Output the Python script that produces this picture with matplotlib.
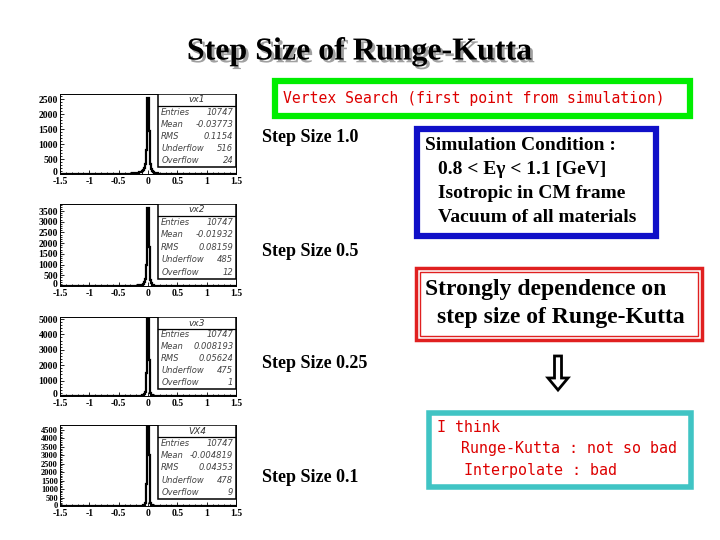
import numpy as np
import matplotlib.pyplot as plt
import matplotlib.patheffects as pe
from matplotlib.patches import Rectangle, FancyArrow
from matplotlib.ticker import MultipleLocator
from matplotlib.transforms import ScaledTranslation

# bin centres of the vertex histograms (width 0.02), counts are zero elsewhere
centers = [-0.40, -0.38, -0.36, -0.34, -0.32, -0.30, -0.28, -0.26, -0.24, -0.22,
           -0.20, -0.18, -0.16, -0.14, -0.12, -0.10, -0.08, -0.06, -0.04, -0.02,
           0.00, 0.02, 0.04, 0.06, 0.08, 0.10, 0.12, 0.14, 0.16, 0.18, 0.20]

vx1 = [4, 5, 6, 8, 10, 12, 15, 18, 22, 27,
       33, 40, 50, 62, 80, 105, 140, 200, 330, 800,
       2550, 1420, 330, 160, 100, 65, 42, 28, 18, 10, 5]
vx2 = [2, 2, 3, 3, 4, 5, 6, 7, 9, 11,
       14, 18, 24, 32, 45, 70, 110, 180, 350, 1000,
       3650, 1800, 300, 120, 60, 35, 20, 12, 7, 4, 2]
vx3 = [1, 1, 2, 2, 2, 3, 3, 4, 5, 6,
       8, 10, 13, 17, 24, 35, 60, 110, 250, 1500,
       5000, 2350, 200, 80, 40, 22, 12, 7, 4, 2, 1]
vx4 = [1, 1, 1, 2, 2, 2, 3, 3, 4, 5,
       6, 8, 10, 13, 18, 26, 40, 70, 180, 1300,
       4750, 3000, 150, 60, 30, 16, 9, 5, 3, 2, 1]

hist_names = ['vx1', 'vx2', 'vx3', 'VX4']
hist_counts = [vx1, vx2, vx3, vx4]
stat_entries = ['10747', '10747', '10747', '10747']
stat_mean = ['-0.03773', '-0.01932', '0.008193', '-0.004819']
stat_rms = ['0.1154', '0.08159', '0.05624', '0.04353']
stat_under = ['516', '485', '475', '478']
stat_over = ['24', '12', '1', '9']
ytops = [2667, 3827, 5130, 4796]
ysteps = [500, 500, 1000, 500]
step_labels = ['Step Size 1.0', 'Step Size 0.5', 'Step Size 0.25', 'Step Size 0.1']

# pixel layout (top, bottom) of each histogram frame
frames = [(94, 174), (204, 286), (317, 396), (425, 506)]
label_y = [137, 251, 364, 477]

W, H = 720, 540
fig = plt.figure(figsize=(7.2, 5.4), dpi=100)
fig.patch.set_facecolor('white')

serif = 'Liberation Serif'
mono = 'DejaVu Sans Mono'

edges = np.concatenate([[-1.5], np.array(centers) - 0.01, [centers[-1] + 0.01, 1.5]])

for i in range(4):
    top, bot = frames[i]
    ax = fig.add_axes([60 / W, (H - bot) / H, 176 / W, (bot - top) / H])
    counts = np.concatenate([[0], hist_counts[i], [0]])
    ax.stairs(counts, edges, color='black', lw=1.6, baseline=None)
    ax.set_xlim(-1.5, 1.5)
    ax.set_ylim(0, ytops[i])
    ax.xaxis.set_minor_locator(MultipleLocator(0.1))
    ax.yaxis.set_minor_locator(MultipleLocator(ysteps[i] / 5))
    ax.tick_params(direction='in', which='both', top=False, right=False,
                   length=3, width=0.6, pad=1.5)
    ax.tick_params(axis='x', pad=2.5)
    ax.tick_params(which='minor', length=1.5)
    ax.set_xticks([-1.5, -1, -0.5, 0, 0.5, 1, 1.5])
    ax.set_xticklabels(['-1.5', '-1', '-0.5', '0', '0.5', '1', '1.5'])
    yt = np.arange(0, ytops[i], ysteps[i])
    ax.set_yticks(yt)
    ax.set_yticklabels([str(int(v)) for v in yt])
    for lab in ax.get_xticklabels():
        lab.set_fontfamily(serif)
        lab.set_fontweight('bold')
        lab.set_fontsize(7)
    for lab in ax.get_yticklabels():
        lab.set_fontfamily(serif)
        lab.set_fontweight('bold')
        lab.set_fontsize(7 if i != 3 else 6)
    zero = ax.get_yticklabels()[0]
    shift = 2 if i != 3 else 1
    zero.set_transform(zero.get_transform() + ScaledTranslation(0, shift / 72, fig.dpi_scale_trans))
    for s in ax.spines.values():
        s.set_linewidth(0.7)

    # stats box
    bx0, by0 = 0.555, 0.09
    ax.add_patch(Rectangle((bx0, by0), 1 - bx0, 1 - by0, transform=ax.transAxes,
                           facecolor='white', edgecolor='black', lw=1.1, zorder=5))
    hdr = 1 - 12 / (bot - top)
    ax.plot([bx0, 1], [hdr, hdr], transform=ax.transAxes, color='black', lw=0.9, zorder=6)
    ax.text((bx0 + 1) / 2, (1 + hdr) / 2, hist_names[i], transform=ax.transAxes,
            ha='center', va='center', fontsize=6.5, style='italic', color='#333333', zorder=7)
    rows = [('Entries', stat_entries[i]), ('Mean', stat_mean[i]), ('RMS', stat_rms[i]),
            ('Underflow', stat_under[i]), ('Overflow', stat_over[i])]
    rh = (hdr - by0) / 5
    for j, (k, v) in enumerate(rows):
        yy = hdr - rh * (j + 0.5)
        ax.text(bx0 + 0.02, yy, k, transform=ax.transAxes, ha='left', va='center',
                fontsize=6, style='italic', color='#444444', zorder=7)
        ax.text(0.985, yy, v, transform=ax.transAxes, ha='right', va='center',
                fontsize=6, style='italic', color='#444444', zorder=7)

# overlay in pixel coordinates for text and boxes
bg = fig.add_axes([0, 0, 1, 1], zorder=10)
bg.set_xlim(0, W)
bg.set_ylim(H, 0)
bg.axis('off')
bg.patch.set_alpha(0)

# title with shadow
bg.text(360, 52, 'Step Size of Runge-Kutta', ha='center', va='center', fontsize=23,
        fontweight='bold', family=serif, color='black',
        path_effects=[pe.withSimplePatchShadow(offset=(2, -2), shadow_rgbFace='#a0a0a0', alpha=1)])

# green box
bg.add_patch(Rectangle((275, 81), 415, 35, facecolor='white', edgecolor='#00ee00', lw=4.5))
bg.text(283, 99, 'Vertex Search (first point from simulation)', ha='left', va='center',
        fontsize=10.6, family=mono, color='#dd0000')

for lab, yy in zip(step_labels, label_y):
    bg.text(262, yy, lab, ha='left', va='center', fontsize=13, fontweight='bold', family=serif)

# blue box
bg.add_patch(Rectangle((417, 129), 239, 107, facecolor='white', edgecolor='#1010c8', lw=4.5))
cond_lines = ['Simulation Condition :', '0.8 < E\u03b3 < 1.1 [GeV]',
              'Isotropic in CM frame', 'Vacuum of all materials']
cond_x = [425, 438, 438, 438]
cond_y = [145, 169, 193, 217]
for t, xx, yy in zip(cond_lines, cond_x, cond_y):
    bg.text(xx, yy, t, ha='left', va='center', fontsize=14, fontweight='bold', family=serif)

# red double box
bg.add_patch(Rectangle((416, 268), 286, 72, facecolor='white', edgecolor='#e02020', lw=2.5))
bg.add_patch(Rectangle((420, 272), 278, 64, facecolor='none', edgecolor='#e02020', lw=1.0))
bg.text(425, 289, 'Strongly dependence on', ha='left', va='center', fontsize=17,
        fontweight='bold', family=serif, color='black')
bg.text(437, 317, 'step size of Runge-Kutta', ha='left', va='center', fontsize=17,
        fontweight='bold', family=serif, color='black')

# hollow down arrow
bg.add_patch(FancyArrow(558, 356, 0, 34, width=7, head_width=20, head_length=12,
                        length_includes_head=True, facecolor='white', edgecolor='black', lw=2))

# cyan box
bg.add_patch(Rectangle((429, 413), 262, 74, facecolor='white', edgecolor='#40c4c4', lw=4))
bg.text(437, 427, 'I think', ha='left', va='center', fontsize=10.8, family=mono, color='#dd0000')
bg.text(461, 449, 'Runge-Kutta : not so bad', ha='left', va='center', fontsize=10.8,
        family=mono, color='#dd0000')
bg.text(464, 470, 'Interpolate : bad', ha='left', va='center', fontsize=10.8,
        family=mono, color='#dd0000')

fig.savefig('out.png', dpi=100)
